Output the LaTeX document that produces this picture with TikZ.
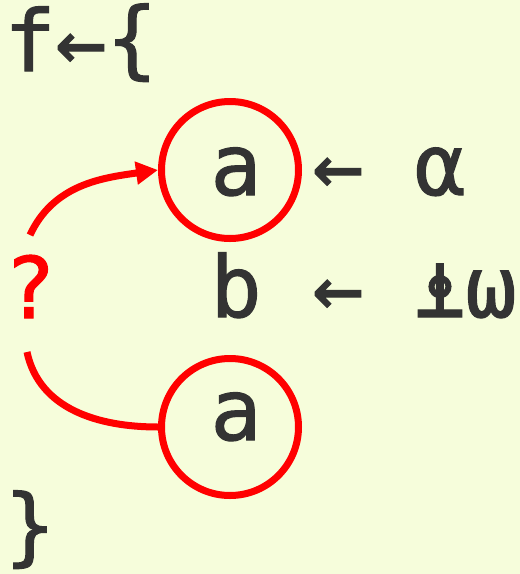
\documentclass[tikz,border=0pt]{standalone}
\usepackage{fontspec}
\newfontfamily\aplfont[FakeBold=1.2]{DejaVu Sans Mono}
\usetikzlibrary{arrows.meta}
\definecolor{bgcol}{HTML}{F6FDDB}
\definecolor{inkcol}{HTML}{333333}
\definecolor{redcol}{HTML}{FF0000}
\tikzset{
  glyph/.style={inner sep=0pt, outer sep=0pt, anchor=base, text=inkcol,
    font=\aplfont\fontsize{85}{100}\selectfont},
  redglyph/.style={glyph, text=redcol},
  ring/.style={circle, draw=redcol, line width=7pt, minimum size=137pt, inner sep=0pt},
  link/.style={draw=redcol, line width=7pt},
}
\begin{document}
\begin{tikzpicture}[x=1pt,y=1pt]
\useasboundingbox (0,0) rectangle (520,-574);
\fill[bgcol] (0,0) rectangle (520,-574);
% line 1
\node[glyph] (f) at (30,-71) {f};
\node[glyph] (asg) at (81,-71) {←};
\node[glyph] (lb) at (132,-68) {\{};
% line 2
\node[ring] (c1) at (230,-170) {};
\node[glyph] (a1) at (236,-195) {a};
\node[glyph] (ar1) at (338,-195) {←};
\node[glyph] (alpha) at (440,-195) {⍺};
% line 3
\node[redglyph] (q) at (30,-318) {?};
\node[glyph] (b) at (236,-317) {b};
\node[glyph] (ar2) at (338,-317) {←};
\node[glyph] (exec) at (440,-317) {⍎};
\node[glyph] (omega) at (491,-317) {⍵};
% line 4
\node[ring] (c2) at (230,-427) {};
\node[glyph] (a2) at (236,-440) {a};
% line 5
\node[glyph] (rb) at (30,-555) {\}};
% connectors
\coordinate (s1) at (30,-235);
\coordinate (s2) at (27,-352);
\draw[link, -{Triangle[length=22pt,width=22pt]}] (s1) to[out=65, in=188] (c1.west);
\draw[link] (s2) to[out=-78, in=180] (c2.west);
\end{tikzpicture}
\end{document}
